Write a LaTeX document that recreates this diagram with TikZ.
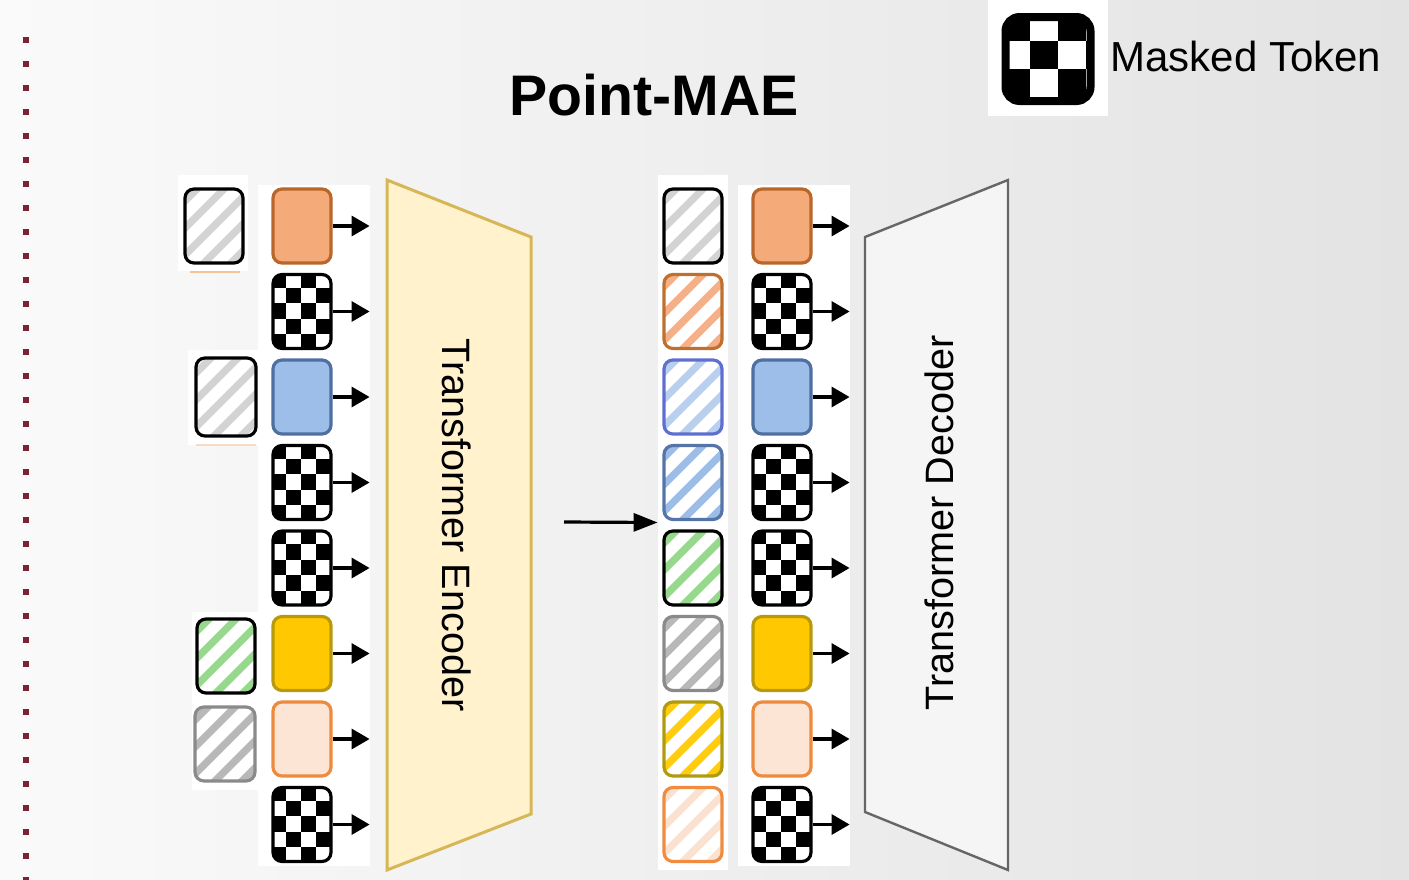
\documentclass[tikz,border=0pt]{standalone}
\usepackage{fontspec}
\setmainfont{Liberation Sans}
\usetikzlibrary{arrows.meta}
\definecolor{bgL}{HTML}{FAFAFA}
\definecolor{bgR}{HTML}{E3E3E3}
\definecolor{dotred}{HTML}{7E2233}
\definecolor{encfill}{HTML}{FFF2CC}
\definecolor{encdraw}{HTML}{D6B656}
\definecolor{decfill}{HTML}{F5F5F5}
\definecolor{decdraw}{HTML}{666666}
\definecolor{orF}{HTML}{F5AA7A}
\definecolor{orD}{HTML}{B8662A}
\definecolor{blF}{HTML}{9DBEE8}
\definecolor{blD}{HTML}{4E6FA0}
\definecolor{yeF}{HTML}{FFC800}
\definecolor{yeD}{HTML}{B89A0C}
\definecolor{peF}{HTML}{FCE5D5}
\definecolor{peD}{HTML}{EE8A3C}
\definecolor{hGray}{HTML}{D3D3D3}
\definecolor{hOr}{HTML}{F6B088}
\definecolor{hOrD}{HTML}{C0702E}
\definecolor{hBl}{HTML}{B9CFEE}
\definecolor{hBlD}{HTML}{5E6FD0}
\definecolor{hBlB}{HTML}{9CBDE8}
\definecolor{hBlBD}{HTML}{5575A8}
\definecolor{hGr}{HTML}{97D98C}
\definecolor{hGy}{HTML}{B8B8B8}
\definecolor{hGyD}{HTML}{8A8A8A}
\definecolor{hYe}{HTML}{FFCC10}
\definecolor{hYeD}{HTML}{B09A10}
\definecolor{hPe}{HTML}{FBE2D0}
\definecolor{hPeD}{HTML}{EF8C40}
\definecolor{artor}{HTML}{F3C39C}
% checker cells relative to the node centre: cell w, cell h, last col, last row, x0, y0
\newcommand\chkpat[6]{%
  \foreach \i in {0,...,#3}{\foreach \j in {0,...,#4}{%
    \pgfmathtruncatemacro\p{mod(\i+\j,2)}%
    \ifnum\p=0 \fill[black,sharp corners] (\i*#1+#5,\j*#2+#6) rectangle ++(#1,#2);\fi}}}
\tikzset{
  tok/.style={line width=1.6pt, rounded corners=4.5pt, minimum width=29pt, minimum height=37pt, inner sep=0pt},
  chktok/.style={tok, draw=black, fill=white, path picture={\chkpat{15}{15.4}{3}{4}{-31}{-39}}},
  soltok/.style 2 args={tok, draw=#1, fill=#2},
  hatchtok/.style 2 args={tok, draw=#1, fill=white, path picture={%
      \foreach \k in {-3,...,3}{\draw[line width=3.6pt, #2, sharp corners] (\k*27-60,60) -- (\k*27+60,-60);}}},
  legchk/.style={draw=black, line width=4pt, fill=white, rounded corners=7pt, minimum width=42.5pt, minimum height=42pt, inner sep=0pt, path picture={\chkpat{28}{28}{3}{3}{-46.5}{-46}}},
  arr/.style={line width=1.6pt, -{Triangle[length=9pt,width=10pt]}},
  panel/.style={fill=white, inner sep=0pt}
}
\begin{document}
\begin{tikzpicture}[x=0.5pt,y=-0.5pt]
\useasboundingbox (0,0) rectangle (1409,879);
\shade[left color=bgL, right color=bgR] (0,0) rectangle (1409,879);
% dotted separator
\foreach \i in {0,...,35} \fill[dotred] (23,37+\i*24) rectangle ++(6,6);

% legend
\fill[white] (988,0) rectangle (1108,116);
\node[legchk] (leg) at (1048,59) {};
\node[font=\fontsize{21}{24}\selectfont, anchor=base west, inner sep=0pt] (legtxt) at (1110,71) {Masked Token};

% title
\node[font=\fontsize{28.6}{32}\selectfont\bfseries, anchor=base, inner sep=0pt] (title) at (654,115) {Point-MAE};

% encoder / decoder bodies
\draw[fill=encfill, draw=encdraw, line width=1.5pt] (387,180) -- (531,237) -- (531,814) -- (387,870) -- cycle;
\draw[fill=decfill, draw=decdraw, line width=1.2pt] (865,237) -- (1008,180) -- (1008,870) -- (865,812) -- cycle;
\node[font=\fontsize{19.8}{22}\selectfont, rotate=-90, anchor=base, inner sep=0pt] (enc) at (442,525) {Transformer Encoder};
\node[font=\fontsize{19.8}{22}\selectfont, rotate=90, anchor=base, inner sep=0pt] (dec) at (953,523) {Transformer Decoder};

% white panels
\fill[white] (258,185) rectangle (370,866);
\fill[white] (738,185) rectangle (850,866);
\node[panel, minimum width=35pt, minimum height=347.5pt] (midpanel) at (693,522.5) {};
\fill[white] (178,175) rectangle (248,271);
\fill[white] (188,350) rectangle (262,445);
\fill[white] (192,612) rectangle (260,790);
\draw[artor, line width=1pt] (190,272) -- (240,272);
\draw[artor!60, line width=1pt] (196,445) -- (256,445);

% ghost tokens (left)
\node[hatchtok={black}{hGray}] (g1) at (214,226) {};
\node[hatchtok={black}{hGray}, minimum width=30pt, minimum height=39pt] (g3) at (226,397) {};
\node[hatchtok={black}{hGr}] (g6) at (226,656) {};
\node[hatchtok={hGyD}{hGy}, minimum width=30pt] (g7) at (225,744) {};

% encoder input column
\node[soltok={orD}{orF}] (a1) at (302,226) {};
\node[chktok] (a2) at (302,311.5) {};
\node[soltok={blD}{blF}] (a3) at (302,397) {};
\node[chktok] (a4) at (302,482.5) {};
\node[chktok] (a5) at (302,568) {};
\node[soltok={yeD}{yeF}] (a6) at (302,653.5) {};
\node[soltok={peD}{peF}] (a7) at (302,739) {};
\node[chktok] (a8) at (302,824.5) {};

% hatched middle column
\node[hatchtok={black}{hGray}] (b1) at (693,226) {};
\node[hatchtok={hOrD}{hOr}] (b2) at (693,311.5) {};
\node[hatchtok={hBlD}{hBl}] (b3) at (693,397) {};
\node[hatchtok={hBlBD}{hBlB}] (b4) at (693,482.5) {};
\node[hatchtok={black}{hGr}] (b5) at (693,568) {};
\node[hatchtok={hGyD}{hGy}] (b6) at (693,653.5) {};
\node[hatchtok={hYeD}{hYe}] (b7) at (693,739) {};
\node[hatchtok={hPeD}{hPe}] (b8) at (693,824.5) {};

% decoder input column
\node[soltok={orD}{orF}] (c1) at (782,226) {};
\node[chktok] (c2) at (782,311.5) {};
\node[soltok={blD}{blF}] (c3) at (782,397) {};
\node[chktok] (c4) at (782,482.5) {};
\node[chktok] (c5) at (782,568) {};
\node[soltok={yeD}{yeF}] (c6) at (782,653.5) {};
\node[soltok={peD}{peF}] (c7) at (782,739) {};
\node[chktok] (c8) at (782,824.5) {};

% arrows
\foreach \r in {1,...,8}{
  \draw[arr] (a\r.east) -- ++(37,0);
  \draw[arr] (c\r.east) -- ++(37,0);
}
\coordinate (src) at (564,522);
\draw[line width=1.6pt, -{Triangle[length=12pt,width=9pt]}] (src) -- (midpanel.west);
\end{tikzpicture}
\end{document}
